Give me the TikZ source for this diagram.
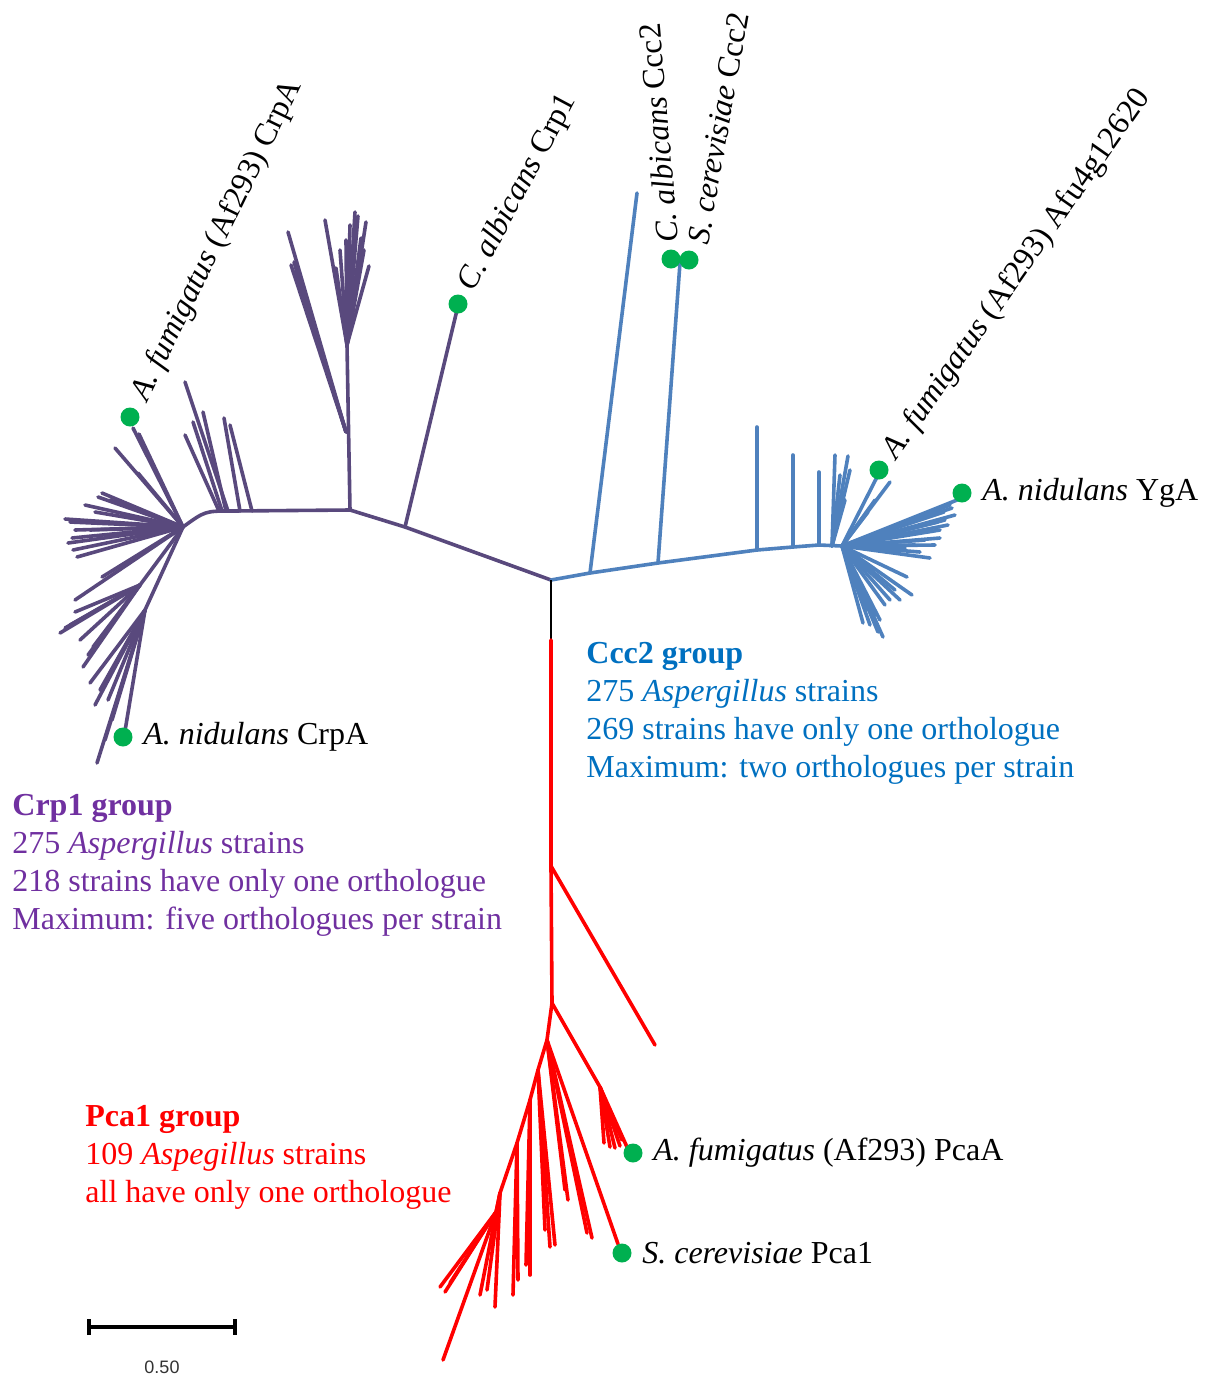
\documentclass[tikz,border=0pt]{standalone}
\usepackage{fontspec}
\setmainfont{Liberation Serif}
\newfontfamily\barfont{Liberation Sans}
\usetikzlibrary{positioning,arrows.meta}
\definecolor{ptree}{RGB}{89,73,125}
\definecolor{ptext}{RGB}{112,48,160}
\definecolor{btree}{RGB}{79,129,189}
\definecolor{btext}{RGB}{0,112,192}
\definecolor{rtree}{RGB}{255,0,0}
\definecolor{dotgreen}{RGB}{0,176,80}
\begin{document}
\begin{tikzpicture}[
    x=0.5pt, y=-0.5pt,
    branch/.style={line width=1.8pt, line cap=round, line join=round},
    crp/.style={branch, draw=ptree},
    ccc/.style={branch, draw=btree},
    pca/.style={branch, draw=rtree},
    dot/.style={circle, fill=dotgreen, minimum size=9.5pt, inner sep=0pt},
    leaf/.style={font=\fontsize{16}{19}\selectfont, inner sep=0pt},
    grp/.style={font=\fontsize{16}{19}\selectfont, inner sep=0pt, align=left, anchor=north west}
  ]
  \useasboundingbox (0,0) rectangle (1206,1378);

  % junctions
  \coordinate (root) at (551,580);
  \coordinate (pA) at (405,527);
  \coordinate (pB) at (350,510);
  \coordinate (pC) at (347,345);
  \coordinate (pM) at (346,432);
  \coordinate (pD) at (232,511);
  \coordinate (pH) at (183,527);
  \coordinate (pL) at (145,610);
  \coordinate (pK) at (140,585);
  \coordinate (b1) at (590,573);
  \coordinate (b2) at (658,563);
  \coordinate (b3) at (757,550);
  \coordinate (b4) at (793,547);
  \coordinate (b5) at (819,545);
  \coordinate (bF) at (832,546);
  \coordinate (bH) at (842,546);
  \coordinate (rB) at (551,640);
  \coordinate (r1) at (551,866);
  \coordinate (rH) at (552,1003);
  \coordinate (rP) at (600,1087);
  \coordinate (r2) at (547,1040);
  \coordinate (r3) at (538,1070);
  \coordinate (r4) at (530,1100);
  \coordinate (r5) at (517,1143);
  \coordinate (r6) at (500,1193);
  \coordinate (r7) at (496,1212);

  % Crp1 group
  \draw[crp] (root) -- (pA) -- (pB) -- (pD) .. controls (205,511) .. (pH);
  \draw[crp] (pB) -- (pC);
  \coordinate (tCrp1) at (457,310);
  \draw[crp] (pA) -- (tCrp1);
  \foreach \x/\y [count=\i] in {288/232,291/265,296/270,294/262}{
    \coordinate (pm\i) at (\x,\y);
    \draw[crp] (pM) -- (pm\i);
  }
  \foreach \x/\y [count=\i] in {355/212,358/216,325/220,366/222,369/266,336/268,346/240,361/238,350/225,340/250,364/250}{
    \coordinate (pc\i) at (\x,\y);
    \draw[crp] (pC) -- (pc\i);
  }
  \foreach \sx/\x/\y [count=\i] in {252/230/425,240/224/418,228/185/382,226/203/412,219/185/435,222/193/422}{
    \coordinate (ps\i) at (\sx,511);
    \coordinate (pt\i) at (\x,\y);
    \draw[crp] (ps\i) -- (pt\i);
  }
  \coordinate (tFumCrpA) at (133,428);
  \draw[crp] (pH) -- (tFumCrpA);
  \foreach \x/\y [count=\i] in {139/434,115/448,138/473,102/493,98/497,65/519,70/522,68/543,77/557,73/550,90/530,110/500,102/577,75/600,85/505,95/512,75/530,72/538}{
    \coordinate (ph\i) at (\x,\y);
    \draw[crp] (pH) -- (ph\i);
  }
  \draw[crp] (pH) -- (pL);
  \draw[crp] (pH) -- (pK);
  \coordinate (tNidCrpA) at (125,731);
  \draw[crp] (pL) -- (tNidCrpA);
  \foreach \x/\y [count=\i] in {97/763,105/740,112/720,90/683,100/690,108/700,95/705}{
    \coordinate (pl\i) at (\x,\y);
    \draw[crp] (pL) -- (pl\i);
  }
  \foreach \x/\y [count=\i] in {60/633,83/667,93/647,80/640,70/625,65/628,75/612,88/655}{
    \coordinate (pk\i) at (\x,\y);
    \draw[crp] (pK) -- (pk\i);
  }

  % Ccc2 group
  \draw[ccc] (root) -- (b1) -- (b2) -- (b3) -- (b4) -- (b5) -- (bH);
  \coordinate (tTop) at (637,193);
  \coordinate (tCcc2) at (680,263);
  \coordinate (tB3) at (757,427);
  \coordinate (tB4) at (793,455);
  \coordinate (tB5) at (819,472);
  \draw[ccc] (b1) -- (tTop);
  \draw[ccc] (b2) -- (tCcc2);
  \draw[ccc] (b3) -- (tB3);
  \draw[ccc] (b4) -- (tB4);
  \draw[ccc] (b5) -- (tB5);
  \foreach \x/\y [count=\i] in {835/455,848/456,840/475,850/470,845/500}{
    \coordinate (bf\i) at (\x,\y);
    \draw[ccc] (bF) -- (bf\i);
  }
  \coordinate (tFumAfu) at (877,477);
  \draw[ccc] (bH) -- (tFumAfu);
  \coordinate (tNidYgA) at (957,500);
  \draw[ccc] (bH) -- (tNidYgA);
  \foreach \x/\y [count=\i] in {890/482,868/512,875/500,952/508,955/515,948/525,940/530,935/545,930/558,920/552,945/520,883/637,878/632,863/623,870/625,912/595,907/577,895/590,885/605,900/600,950/505,944/512,938/522,925/540,915/545,905/548,940/538,880/620,875/615,868/610,890/600}{
    \coordinate (bh\i) at (\x,\y);
    \draw[ccc] (bH) -- (bh\i);
  }

  % Pca1 group
  \draw[line width=0.7pt] (root) -- (rB);
  \draw[pca] (rB) -- (r1) -- (rH) -- (r2) -- (r3) -- (r4) -- (r5) -- (r6) -- (r7);
  \coordinate (tBottom) at (443,1360);
  \coordinate (tR1) at (655,1045);
  \draw[pca] (r7) -- (tBottom);
  \draw[pca] (r1) -- (tR1);
  \draw[pca] (rH) -- (rP);
  \coordinate (tFumPcaA) at (627,1147);
  \draw[pca] (rP) -- (tFumPcaA);
  \foreach \x/\y [count=\i] in {610/1147,615/1148,620/1146,604/1143,622/1140}{
    \coordinate (rp\i) at (\x,\y);
    \draw[pca] (rP) -- (rp\i);
  }
  \coordinate (tCerPca1) at (618,1244);
  \draw[pca] (r2) -- (tCerPca1);
  \foreach \j/\x/\y [count=\i] in {2/592/1238,2/587/1233,2/568/1200,2/565/1190,3/550/1247,3/545/1230,3/555/1245,4/530/1275,4/526/1265,5/513/1295,5/518/1280,6/495/1307,6/480/1295,6/487/1290,7/440/1287,7/445/1292,7/450/1283}{
    \coordinate (rr\i) at (\x,\y);
    \draw[pca] (r\j) -- (rr\i);
  }

  % leaf dots
  \node[dot] (dFumCrpA) at (130,417) {};
  \node[dot] (dCrp1) at (458,304) {};
  \node[dot] (dNidCrpA) at (123,737) {};
  \node[dot] (dAlbCcc2) at (671,259) {};
  \node[dot] (dCerCcc2) at (689,260) {};
  \node[dot] (dFumAfu) at (879,470) {};
  \node[dot] (dNidYgA) at (962,493) {};
  \node[dot] (dFumPcaA) at (633,1153) {};
  \node[dot] (dCerPca1) at (622,1253) {};

  % leaf labels
  \node[leaf, rotate=64, anchor=west] (lFumCrpA) at (140,399) {\textit{A. fumigatus} (Af293) CrpA};
  \node[leaf, rotate=62, anchor=west] (lCrp1) at (467,289) {\textit{C. albicans} Crp1};
  \node[leaf, rotate=95, anchor=west] (lAlbCcc2) at (668,243) {\textit{C. albicans} Ccc2};
  \node[leaf, rotate=80, anchor=west] (lCerCcc2) at (698,244) {\textit{S. cerevisiae} Ccc2};
  \node[leaf, rotate=55, anchor=west] (lFumAfu) at (890,456) {\textit{A. fumigatus} (Af293) Afu4g12620};
  \node[leaf, right=5pt of dNidCrpA] (lNidCrpA) {\textit{A. nidulans} CrpA};
  \node[leaf, right=5pt of dNidYgA] (lNidYgA) {\textit{A. nidulans} YgA};
  \node[leaf, right=5pt of dFumPcaA] (lFumPcaA) {\textit{A. fumigatus} (Af293) PcaA};
  \node[leaf, right=5pt of dCerPca1] (lCerPca1) {\textit{S. cerevisiae} Pca1};

  % group texts
  \node[grp, text=ptext] (crpText) at (12,794) {\textbf{Crp1 group}\\275 \textit{Aspergillus} strains\\218 strains have only one orthologue\\Maximum: five orthologues per strain};
  \node[grp, text=btext] (cccText) at (586,642) {\textbf{Ccc2 group}\\275 \textit{Aspergillus} strains\\269 strains have only one orthologue\\Maximum: two orthologues per strain};
  \node[grp, text=rtree] (pcaText) at (85,1105) {\textbf{Pca1 group}\\109 \textit{Aspegillus} strains\\all have only one orthologue};

  % scale bar
  \coordinate (barL) at (87,1327);
  \coordinate (barR) at (237,1327);
  \draw[line width=2pt, {Bar[width=8pt]}-{Bar[width=8pt]}] (barL) -- (barR);
  \node[font=\barfont\fontsize{9}{10}\selectfont, text=black!80, inner sep=0pt] (barLab) at (162,1367) {0.50};
\end{tikzpicture}
\end{document}
